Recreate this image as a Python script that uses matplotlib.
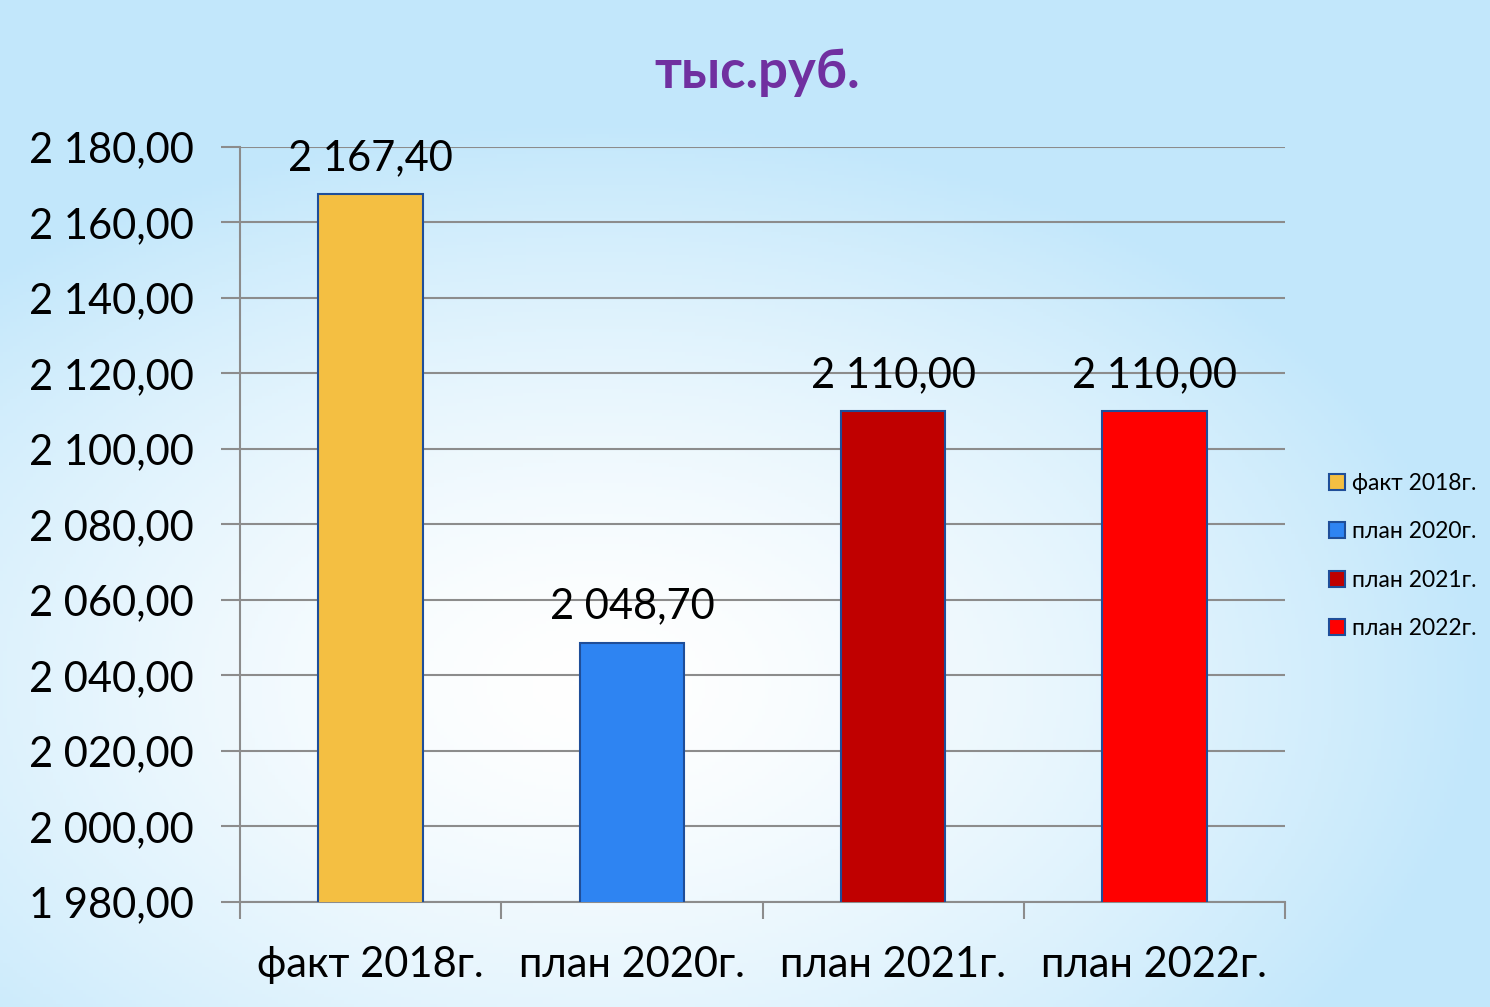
import matplotlib.pyplot as plt
import numpy as np
from matplotlib.colors import LinearSegmentedColormap

plt.rcParams['font.family'] = ['Lato', 'DejaVu Sans']

kategorije = ['факт 2018г.', 'план 2020г.', 'план 2021г.', 'план 2022г.']
vrednosti = [2167.40, 2048.70, 2110.00, 2110.00]
barve = ['#F4BF42', '#2E84F2', '#C00000', '#FF0000']
y_ticks = [1980, 2000, 2020, 2040, 2060, 2080, 2100, 2120, 2140, 2160, 2180]


def fmt(v):
    s = f'{v:,.2f}'
    return s.replace(',', ' ').replace('.', ',')


fig = plt.figure(figsize=(14.9, 10.07), dpi=100)

# ozadje - gradient
bg = fig.add_axes([0, 0, 1, 1], zorder=-1)
yy, xx = np.mgrid[0:1:300j, 0:1:450j]
d = np.sqrt(((xx - 0.4) / 0.8) ** 2 + ((yy - 0.68) / 0.75) ** 2)
d = np.clip(d / 0.75, 0, 1) ** 1.5
cmap = LinearSegmentedColormap.from_list('bg', ['#ffffff', '#c2e7fb'])
bg.imshow(d, cmap=cmap, aspect='auto', extent=[0, 1, 0, 1], vmin=0, vmax=1)
bg.axis('off')

ax = fig.add_axes([0.1611, 0.1043, 0.7013, 0.7498])
ax.patch.set_alpha(0)

x = np.arange(len(kategorije))
bars = ax.bar(x, vrednosti, width=0.4, color=barve, edgecolor='#1F4E99',
              linewidth=1.5, zorder=3)

for xi, v in zip(x, vrednosti):
    ax.text(xi, v + 4.5, fmt(v), ha='center', va='bottom', fontsize=30, zorder=4)

ax.set_ylim(1980, 2180)
ax.set_xlim(-0.5, 3.5)
ax.set_yticks(y_ticks)
ax.set_yticklabels([fmt(t) for t in y_ticks], fontsize=30)
ax.yaxis.grid(True, color='#8c8c8c', linewidth=1.5, zorder=1)

ax.set_xticks([-0.5, 0.5, 1.5, 2.5, 3.5])
ax.set_xticklabels([])
ax.set_xticks(x, minor=True)
ax.set_xticklabels(kategorije, minor=True, fontsize=30)
ax.tick_params(axis='x', which='minor', length=0, pad=32)
ax.tick_params(axis='x', which='major', length=12, width=1.5, color='#8c8c8c')
ax.tick_params(axis='y', length=14, width=1.5, color='#8c8c8c', pad=19)

for s in ['top', 'right']:
    ax.spines[s].set_visible(False)
for s in ['left', 'bottom']:
    ax.spines[s].set_color('#8c8c8c')
    ax.spines[s].set_linewidth(1.5)

fig.text(0.508, 0.928, 'тыс.руб.', ha='center', va='center', fontsize=38,
         fontweight='bold', color='#7030A0')

leg = ax.legend(bars, kategorije, loc='center left', bbox_to_anchor=(1.022, 0.458),
                frameon=False, fontsize=16.5, handlelength=0.7, handleheight=0.7,
                handletextpad=0.3, labelspacing=1.2)

fig.savefig('out.png', dpi=100)
